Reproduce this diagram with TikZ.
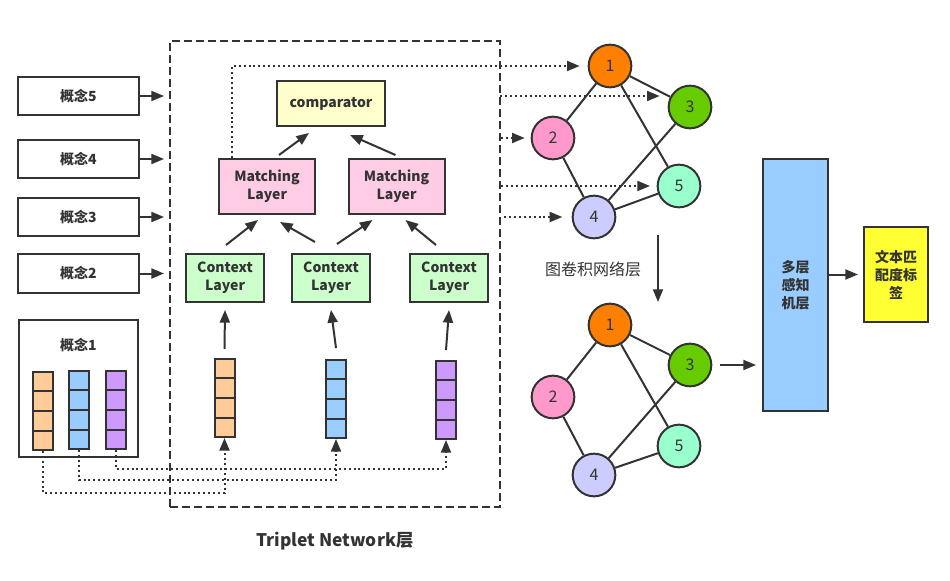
\documentclass[tikz,border=0pt]{standalone}
\usepackage{fontspec}
\setmainfont{Noto Sans CJK SC}
\usetikzlibrary{arrows.meta,calc}
\definecolor{ink}{HTML}{333333}
\definecolor{vorange}{HTML}{FFCC99}
\definecolor{vblue}{HTML}{99CCFF}
\definecolor{vpurple}{HTML}{CC99FF}
\definecolor{ctxc}{HTML}{CCFFCC}
\definecolor{matc}{HTML}{FFCCE6}
\definecolor{cmpc}{HTML}{FFFFCC}
\definecolor{n1c}{HTML}{FF8000}
\definecolor{n2c}{HTML}{FF99CC}
\definecolor{n3c}{HTML}{66CC00}
\definecolor{n4c}{HTML}{CCCCFF}
\definecolor{n5c}{HTML}{99FFCC}
\definecolor{mlpc}{HTML}{99CCFF}
\definecolor{lblc}{HTML}{FFFF33}
\tikzset{
  box/.style={draw=ink, line width=1.5pt, text=ink, font=\bfseries\fontsize{10.5}{13.5}\selectfont, align=center, inner sep=0pt},
  conceptbox/.style={box, fill=white, minimum width=90.75pt, minimum height=28.5pt},
  ctxbox/.style={box, fill=ctxc, minimum width=58.5pt, minimum height=36pt},
  matbox/.style={box, fill=matc, minimum width=72pt, minimum height=41.25pt},
  vecbox/.style={draw=ink, line width=1.5pt, minimum width=15pt, minimum height=58.5pt, inner sep=0pt},
  gnode/.style={circle, draw=ink, line width=1.5pt, minimum size=32pt, inner sep=0pt, text=ink, font=\fontsize{12}{14}\selectfont},
  arr/.style={draw=ink, line width=1.5pt, -{Triangle[length=9.5pt,width=7.5pt]}},
  dotarr/.style={draw=ink, line width=1.5pt, dash pattern=on 1.5pt off 2.2pt, -{Triangle[length=9.5pt,width=7.5pt]}},
  edge/.style={draw=ink, line width=1.5pt},
}
\begin{document}
\begin{tikzpicture}[x=0.75pt,y=-0.75pt]
\useasboundingbox (0,0) rectangle (950,581);

% Triplet network dashed frame
\node[draw=ink, line width=1.5pt, dash pattern=on 6pt off 3pt, minimum width=247.5pt, minimum height=349.5pt, inner sep=0pt] (tn) at (335,274) {};
\node[text=ink, font=\bfseries\fontsize{13}{15}\selectfont] (tnlabel) at (335,541) {Triplet Network层};

% concept boxes
\node[conceptbox] (k5) at (78.5,96) {概念5};
\node[conceptbox] (k4) at (78.5,159) {概念4};
\node[conceptbox] (k3) at (78.5,217) {概念3};
\node[conceptbox] (k2) at (78.5,273.5) {概念2};
\foreach \k in {k5,k4,k3,k2}{
  \draw[arr, shorten >=3.75pt] (\k) -- (\k -| tn.west);
}
\node[box, fill=white, minimum width=89.25pt, minimum height=102.75pt] (k1) at (78.5,388.5) {};
\node[text=ink, font=\bfseries\fontsize{10.5}{12}\selectfont] (k1label) at (78.5,345) {概念1};

% vectors
\node[vecbox, fill=vorange] (o1) at (43,411) {};
\node[vecbox, fill=vblue] (b1) at (79,410) {};
\node[vecbox, fill=vpurple] (p1) at (116,410) {};
\node[vecbox, fill=vorange] (o2) at (224.5,398) {};
\node[vecbox, fill=vblue] (b2) at (336,399) {};
\node[vecbox, fill=vpurple] (p2) at (446,400) {};
\foreach \v in {o1,b1,p1,o2,b2,p2}{
  \foreach \k in {1,2,3}{
    \draw[edge] ($(\v.north west)!\k/4!(\v.south west)$) -- ($(\v.north east)!\k/4!(\v.south east)$);
  }
}

% context layers
\node[ctxbox] (c1) at (225,278) {Context\\Layer};
\node[ctxbox] (c2) at (331,278) {Context\\Layer};
\node[ctxbox] (c3) at (449,278) {Context\\Layer};
% matching layers
\node[matbox] (m1) at (267,186.5) {Matching\\Layer};
\node[matbox] (m2) at (396.5,186.5) {Matching\\Layer};
% comparator
\node[box, fill=cmpc, minimum width=81pt, minimum height=33.75pt] (cmp) at (331,103.5) {comparator};

% vectors to context
\draw[arr] ($(o2.north)+(0,-9)$) -- ($(c1.south)+(0,7)$);
\draw[arr] ($(b2.north)+(0,-11)$) -- ($(c2.south)+(0,7)$);
\draw[arr] ($(p2.north)+(0,-10)$) -- ($(c3.south)+(0,7)$);

% context to matching
\draw[arr] ($(c1.north)+(1,-8)$) -- ($(m1.south)+(-9,5)$);
\draw[arr] ($(c2.north)+(-16,-11)$) -- ($(m1.south)+(13,7)$);
\draw[arr] ($(c2.north)+(6,-9)$) -- ($(m2.south)+(-24,5)$);
\draw[arr] ($(c3.north)+(-13,-8)$) -- ($(m2.south)+(9,5)$);
% matching to comparator
\draw[arr] ($(m1.north)+(12,-3)$) -- ($(cmp.south)+(-22,6)$);
\draw[arr] ($(m2.north)+(-1,-3)$) -- ($(cmp.south)+(19,8)$);

% dotted from concept1 vectors
\draw[dotarr] (o1.south) -- ++(0,42) -| (o2.south);
\draw[dotarr] (b1.south) -- ++(0,30) -| (b2.south);
\draw[dotarr] (p1.south) -- ++(0,19) -| (p2.south);

% upper graph
\node[gnode, fill=n1c] (g1) at (610,66) {1};
\node[gnode, fill=n3c] (g3) at (690,107) {3};
\node[gnode, fill=n2c] (g2) at (553,138) {2};
\node[gnode, fill=n5c] (g5) at (679,186) {5};
\node[gnode, fill=n4c] (g4) at (594,217) {4};
\draw[edge] (g1) -- (g3);
\draw[edge] (g1) -- (g2);
\draw[edge] (g1) -- (g5);
\draw[edge] (g2) -- (g4);
\draw[edge] (g3) -- (g4);
\draw[edge] (g4) -- (g5);

% dotted arrows into upper graph
\draw[dotarr, shorten >=6pt] ($(m1.north west)+(14,0)$) |- (g1);
\coordinate (s3) at (500,96);
\draw[dotarr, shorten >=6pt] (s3) -- (s3 -| g3.west);
\draw[dotarr, shorten >=4.5pt] (tn.east |- g2) -- (g2);
\draw[dotarr, shorten >=5pt] (tn.east |- g5) -- (g5);
\draw[dotarr, shorten >=7pt] ($(tn.east |- g4)+(3,0)$) -- (g4);

\node[text=ink, font=\fontsize{12}{14}\selectfont] (gcnlabel) at (593,269) {图卷积网络层};
\coordinate (d1) at (658,235);
\coordinate (d2) at (658,302);
\draw[arr] (d1) -- (d2);

% lower graph
\node[gnode, fill=n1c] (h1) at (610,325) {1};
\node[gnode, fill=n3c] (h3) at (690,365) {3};
\node[gnode, fill=n2c] (h2) at (553,397) {2};
\node[gnode, fill=n5c] (h5) at (679,446) {5};
\node[gnode, fill=n4c] (h4) at (594,475) {4};
\draw[edge] (h1) -- (h3);
\draw[edge] (h1) -- (h2);
\draw[edge] (h1) -- (h5);
\draw[edge] (h2) -- (h4);
\draw[edge] (h3) -- (h4);
\draw[edge] (h4) -- (h5);

% MLP and label
\node[box, fill=mlpc, minimum width=48.75pt, minimum height=189pt] (mlp) at (795.5,285) {多层\\感知\\机层};
\node[box, fill=lblc, minimum width=48pt, minimum height=71.25pt] (lbl) at (896,274.5) {文本匹\\配度标\\签};
\draw[arr, shorten <=6pt, shorten >=4.5pt] (h3) -- (h3 -| mlp.west);
\draw[arr, shorten >=3.75pt] (mlp.east |- lbl) -- (lbl);
\end{tikzpicture}
\end{document}
